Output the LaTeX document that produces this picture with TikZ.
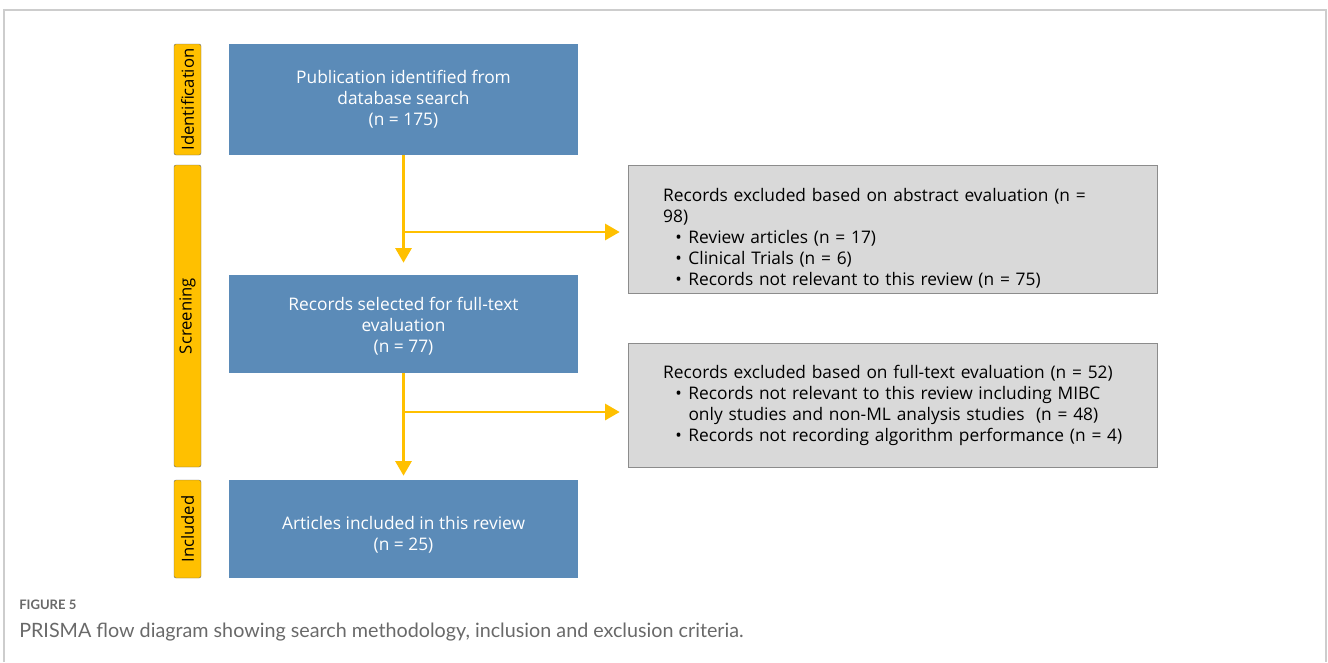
\documentclass[tikz,border=0pt]{standalone}
\usepackage{fontspec}
\setmainfont{Open Sans}
\newfontfamily\capfont{Lato}
\usepackage{tikz}
\usetikzlibrary{arrows.meta}
\definecolor{stageyellow}{RGB}{255,192,0}
\definecolor{boxblue}{RGB}{91,139,184}
\definecolor{boxgray}{RGB}{217,217,217}
\definecolor{capgray}{RGB}{105,105,105}
\definecolor{framegray}{RGB}{205,205,205}
\tikzstyle{stagebar}=[fill=stageyellow,draw=black!60,line width=0.3pt,rounded corners=1.5pt,minimum width=20.25pt,inner sep=0pt,font=\fontsize{12.5}{14}\selectfont]
\tikzstyle{flowbox}=[fill=boxblue,minimum width=261.75pt,inner sep=0pt,align=center,text=white,font=\fontsize{13}{15.75}\selectfont]
\tikzstyle{exclbox}=[fill=boxgray,draw=black!45,line width=0.4pt,minimum width=396.75pt,text width=344pt,inner xsep=26.25pt,align=left,font=\fontsize{13}{15.75}\selectfont]
\tikzstyle{dedge} = [draw,stageyellow,line width=2.2pt,-{Triangle[width=12pt,length=11pt]}]
\newcommand{\bul}{\makebox[19pt][r]{\textbullet\hspace{5pt}}}
\newcommand{\hang}{\hspace*{19pt}}

\begin{document}
\begin{tikzpicture}[x=0.75pt,y=-0.75pt]
\useasboundingbox (0,0) rectangle (1328,662);
      \draw[framegray,line width=0.8pt] (4,662) -- (4,10) -- (1326,10) -- (1326,662);

      \node[stagebar,minimum height=83.25pt] (ident) at (187.5,99.5) {\rotatebox{90}{Identification}};
      \node[stagebar,minimum height=226.5pt] (screen) at (187.5,316) {\rotatebox{90}{Screening}};
      \node[stagebar,minimum height=73.5pt] (incl) at (187.5,529) {\rotatebox{90}{Included}};

      \node[flowbox,minimum height=83.25pt] (found) at (403.5,99.5) {Publication identified from\\database search\\(n = 175)};
      \node[flowbox,minimum height=73.5pt] (full) at (403.5,324) {\rule{0pt}{14pt}Records selected for full-text\\evaluation\\(n = 77)};
      \node[flowbox,minimum height=73.5pt] (final) at (403.5,529) {\rule{0pt}{18pt}Articles included in this review\\(n = 25)};

      \node[exclbox,minimum height=96pt] (abs) at (892.5,229) {\rule{0pt}{24pt}Records excluded based on abstract evaluation (n =\\98)\\\bul Review articles (n = 17)\\\bul Clinical Trials (n = 6)\\\bul Records not relevant to this review (n = 75)};
      \node[exclbox,minimum height=93pt] (ftx) at (892.5,405) {\mbox{Records excluded based on full-text evaluation (n = 52)}\\\bul Records not relevant to this review including MIBC\\\hang only studies and non-ML analysis studies\ \ (n = 48)\\\bul \mbox{Records not recording algorithm performance (n = 4)}};

      \coordinate (j1) at (403.5,232);
      \coordinate (j2) at (403.5,412);

      \path[dedge,shorten >=9pt] (found) -- (full);
      \path[dedge,shorten >=6pt] (j1) -- (j1 -| abs.west);

      \path[dedge,shorten >=3pt] (full) -- (final);
      \path[dedge,shorten >=6pt] (j2) -- (j2 -| ftx.west);

      \node[anchor=west,inner sep=0pt,text=capgray,font=\capfont\bfseries\fontsize{9.8}{11}\selectfont] (fig) at (19,605) {FIGURE 5};
      \node[anchor=west,inner sep=0pt,text=capgray,font=\capfont\fontsize{14.8}{17}\selectfont] (cap) at (19,632) {PRISMA flow diagram showing search methodology, inclusion and exclusion criteria.};

    \end{tikzpicture}
\end{document}
